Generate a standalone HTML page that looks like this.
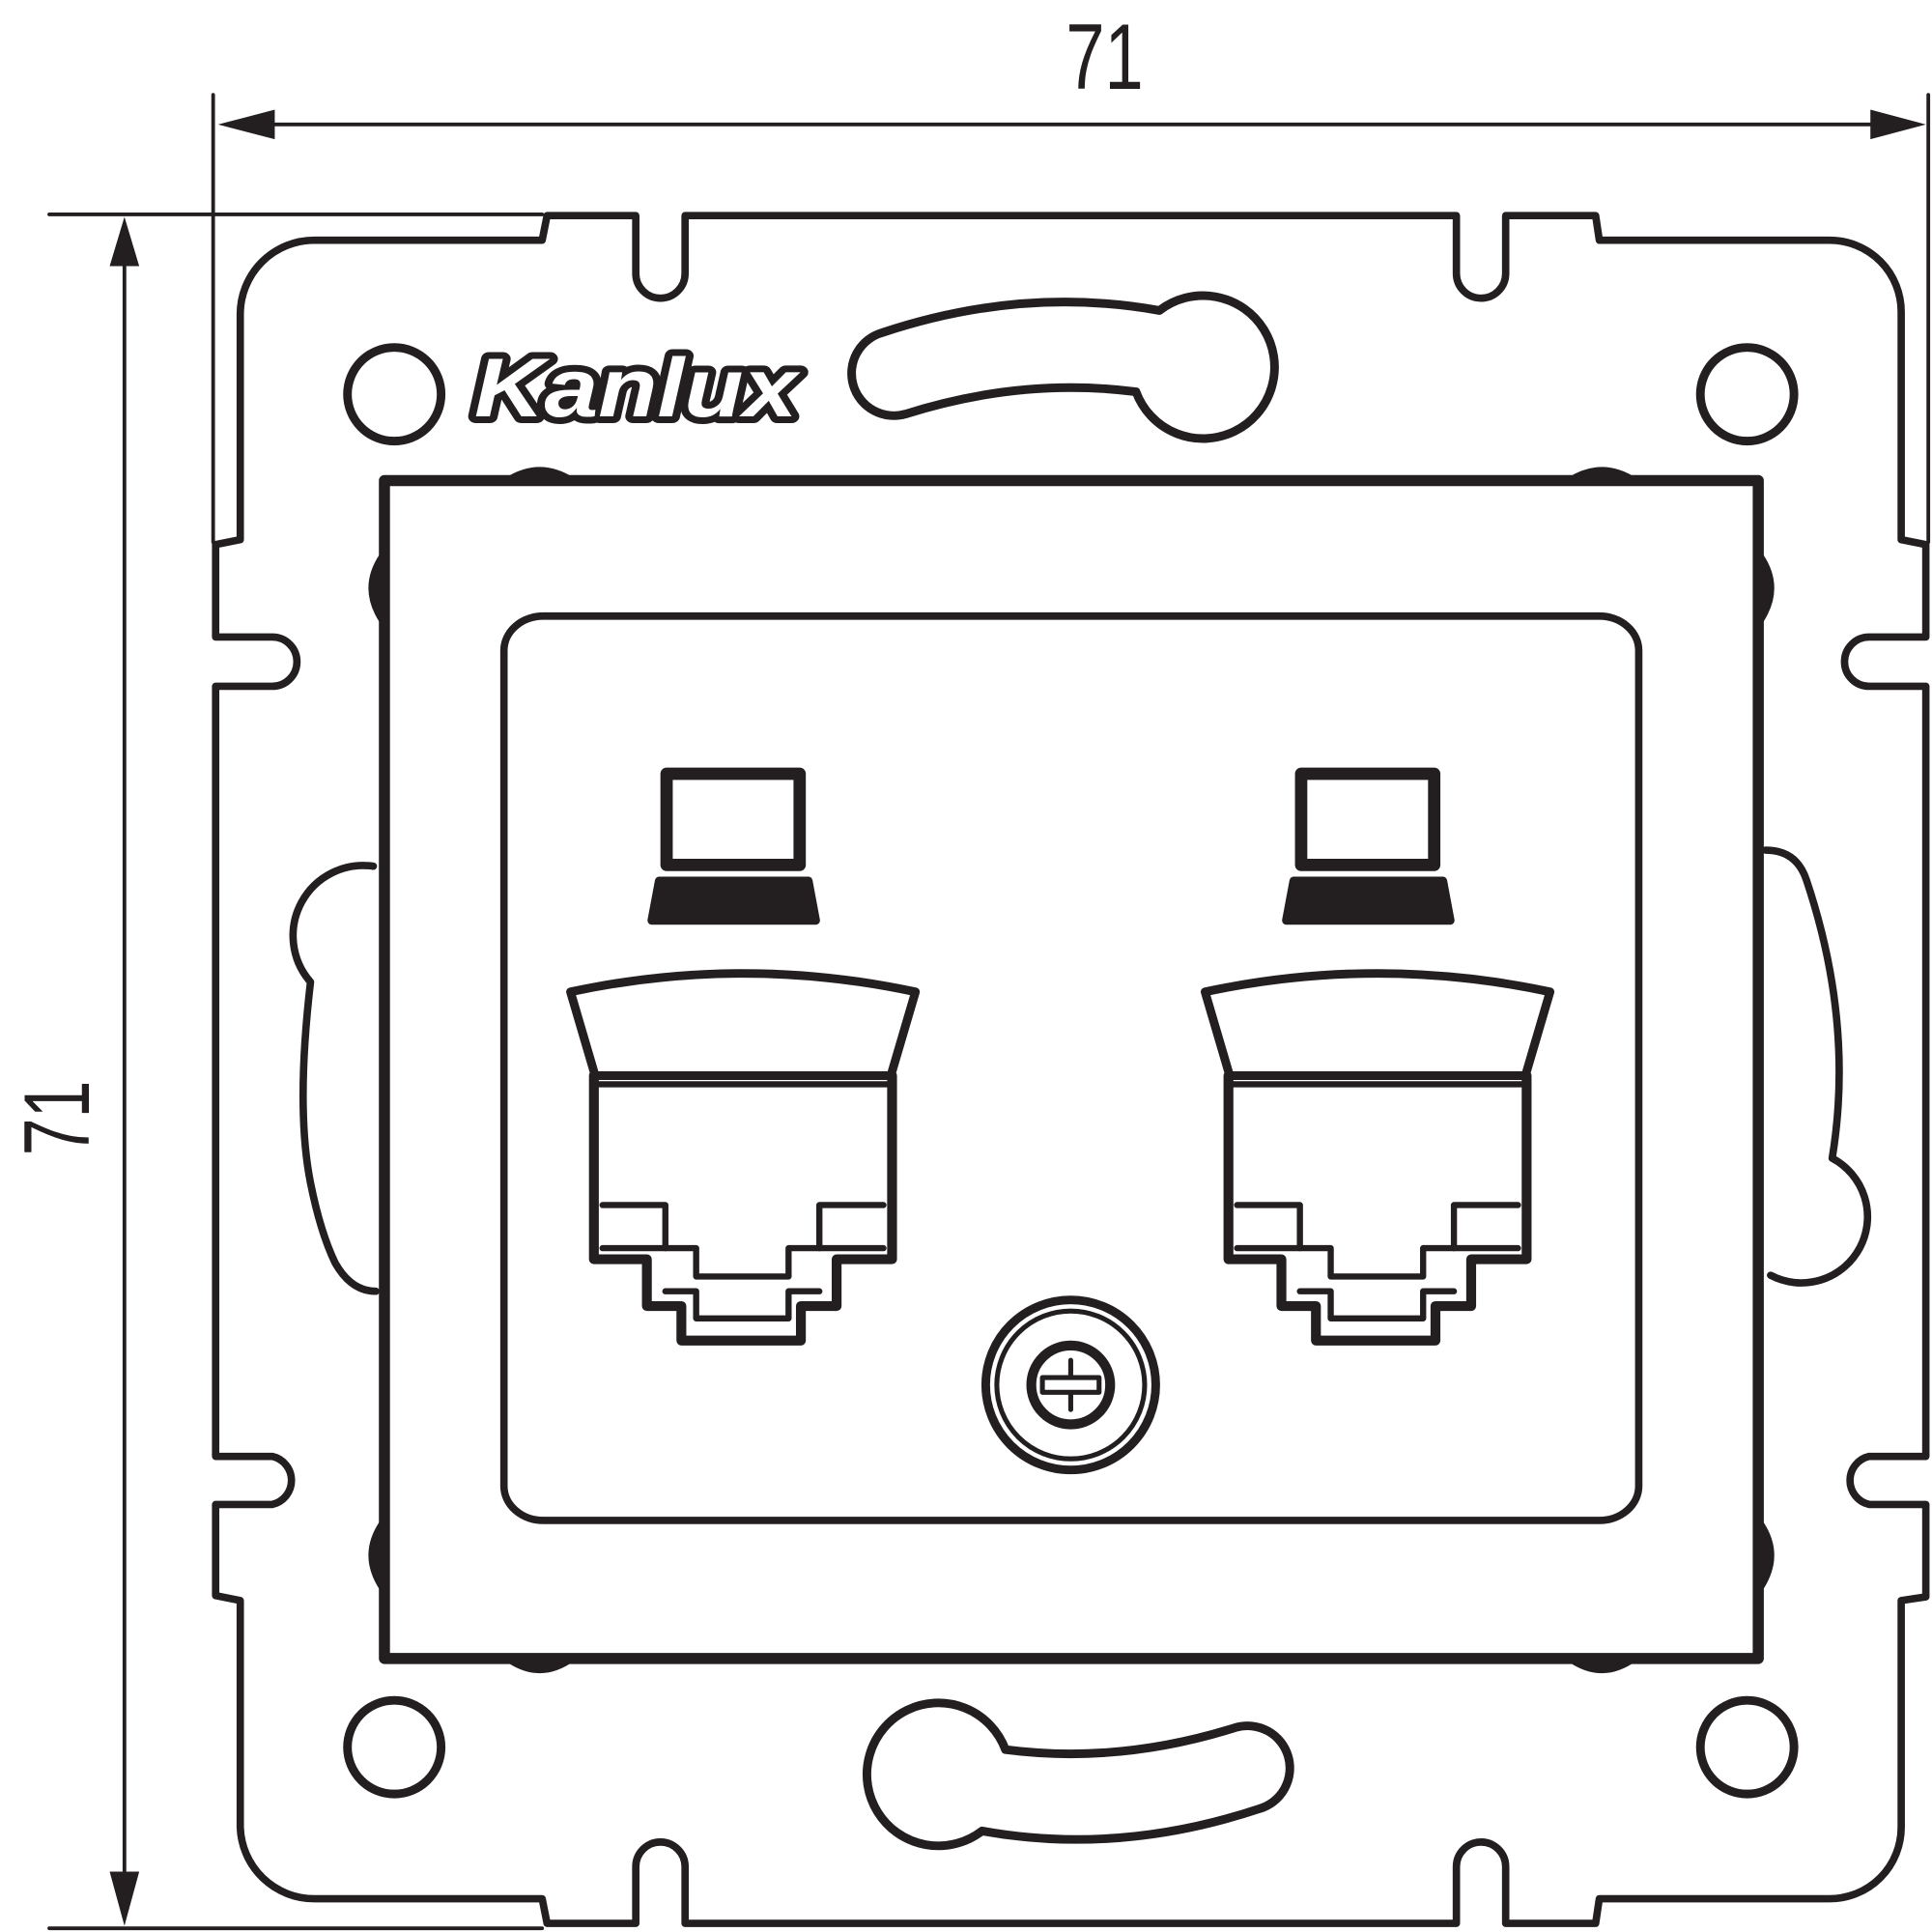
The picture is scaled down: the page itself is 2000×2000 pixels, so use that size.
<!DOCTYPE html>
<html><head><meta charset="utf-8"><style>html,body{margin:0;padding:0;background:#fff}svg{display:block}</style></head>
<body>
<svg width="2000" height="2000" viewBox="0 0 1568 1568" xmlns="http://www.w3.org/2000/svg">
<g fill="none" stroke="#231f20" stroke-linejoin="round" stroke-linecap="round">
<g stroke-width="3">
<line x1="173" y1="77" x2="173" y2="440"/>
<line x1="1565" y1="77" x2="1565" y2="440"/>
<line x1="200" y1="101" x2="1540" y2="101"/>
<line x1="40" y1="174" x2="440" y2="174"/>
<line x1="40" y1="1565" x2="440" y2="1565"/>
<line x1="101" y1="200" x2="101" y2="1540"/>
</g>
<g fill="#231f20" stroke="none">
<polygon points="177,101 223,89 223,113"/>
<polygon points="1563,101 1518,89 1518,113"/>
<polygon points="101,176 89,216 113,216"/>
<polygon points="101,1563 89,1519 113,1519"/>
</g>
<text x="865" y="72" font-family="Liberation Sans, sans-serif" font-size="76" fill="#231f20" stroke="none" textLength="63" lengthAdjust="spacingAndGlyphs">71</text>
<text transform="translate(72,938) rotate(-90)" font-family="Liberation Sans, sans-serif" font-size="76" fill="#231f20" stroke="none" textLength="61" lengthAdjust="spacingAndGlyphs">71</text>

<path stroke-width="6" d="M195,255 A60,60 0 0 1 255,195 L440,195 L444,175 L516,175 L516,222 A20,20 0 0 0 556,222 L556,175 L1182,175 L1182,222 A20,20 0 0 0 1222,222 L1222,175 L1295,175 L1298,195 L1485,195 A58,58 0 0 1 1543,253 L1543,438 L1563,442 L1563,517 L1517,517 A20,20 0 0 0 1517,557 L1563,557 L1563,1182 L1517,1182 A20,20 0 0 0 1517,1221 L1563,1221 L1563,1296 L1543,1299 L1543,1483 A58,58 0 0 1 1485,1541 L1298,1541 L1295,1561 L1222,1561 L1222,1515 A20,20 0 0 0 1182,1515 L1182,1561 L556,1561 L556,1515 A20,20 0 0 0 516,1515 L516,1561 L444,1561 L440,1541 L255,1541 A60,60 0 0 1 195,1483 L195,1299 L175,1295 L175,1221 L221,1221 A20,20 0 0 0 221,1182 L175,1182 L175,557 L221,557 A20,20 0 0 0 221,517 L175,517 L175,442 L195,438 Z"/>

<g stroke-width="7">
<circle cx="320" cy="320" r="38"/><circle cx="1418" cy="320" r="38"/>
<circle cx="320" cy="1418" r="38"/><circle cx="1418" cy="1418" r="38"/>
</g>
<path stroke-width="7" d="M716,270 Q830,232 941,252 A58,58 0 1 1 922,318 Q830,306 735,336 A24,24 0 0 1 716,270 Z"/>
<path stroke-width="7" transform="rotate(180 869 869)" d="M716,270 Q830,232 941,252 A58,58 0 1 1 922,318 Q830,306 735,336 A24,24 0 0 1 716,270 Z"/>

<text x="385" y="338" font-family="Liberation Sans, sans-serif" font-style="italic" font-weight="bold" font-size="68" fill="#fff" stroke="#231f20" stroke-width="11" textLength="262" lengthAdjust="spacingAndGlyphs" style="paint-order:stroke">Kanlux</text>

<path stroke-width="6" d="M303,703 A57,57 0 0 0 252,797 Q240,900 252,960 Q260,1000 272,1025 Q285,1048 305,1048"/>
<path stroke-width="6" d="M1433,690 Q1458,690 1466,714 Q1505,830 1487,940 A50,50 0 0 1 1437,1035"/>

<g fill="#231f20" stroke="none">
<path d="M410,388 Q438,370 466,388 Z"/><path d="M1272,388 Q1300,370 1328,388 Z"/>
<path d="M410,1348 Q438,1368 466,1348 Z"/><path d="M1272,1348 Q1300,1368 1328,1348 Z"/>
<path d="M308,450 Q290,477 308,505 Z"/><path d="M308,1235 Q290,1262 308,1290 Z"/>
<path d="M1431,450 Q1449,477 1431,505 Z"/><path d="M1431,1235 Q1449,1262 1431,1290 Z"/>
</g>
<rect x="312" y="390" width="1115" height="956" stroke-width="9"/>
<rect x="409" y="500" width="921" height="734" rx="32" ry="28" stroke-width="6"/>

<g id="port" stroke-width="7">
<rect x="541" y="628" width="108" height="74" stroke-width="10"/>
<path d="M535,715 L656,715 L662,747 L529,747 Z" fill="#231f20"/>
<path d="M463,805 Q603,775 743,805 L723,873 L483,873 Z"/>
<line x1="483" y1="880" x2="723" y2="880" stroke-width="5"/>
<path stroke-width="8" d="M482,873 L482,1022 L525,1022 L525,1060 L553,1060 L553,1088 L650,1088 L650,1060 L679,1060 L679,1022 L724,1022 L724,873"/>
<path stroke-width="5" d="M489,978 L540,978 L540,1013 L565,1013 L565,1036 L640,1036 L640,1013 L665,1013 L665,978 L717,978"/>
<path stroke-width="5" d="M489,1013 L540,1013 M540,1048 L565,1048 L565,1070 L640,1070 L640,1048 L665,1048 M665,1013 L717,1013"/>
</g>
<use href="#port" transform="translate(515 0)"/>

<circle cx="869" cy="1124" r="69" stroke-width="7"/>
<circle cx="869" cy="1124" r="60" stroke-width="4"/>
<circle cx="869" cy="1124" r="32" stroke-width="8"/>
<g stroke-width="4">
<line x1="847" y1="1124" x2="891" y2="1124"/>
<line x1="869" y1="1104" x2="869" y2="1144"/>
<rect x="846" y="1118" width="46" height="12" fill="#fff"/>
</g>
</g>
</svg>
</body></html>
